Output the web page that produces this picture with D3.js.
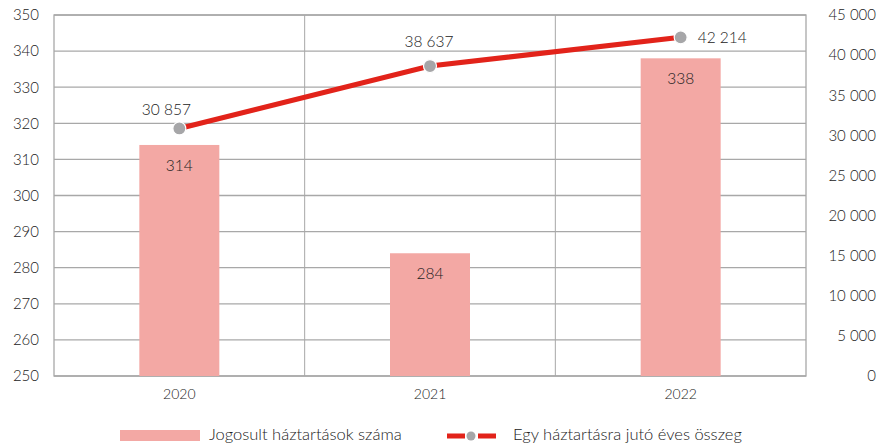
<!DOCTYPE html>
<html lang="hu">
<head>
<meta charset="UTF-8">
<title>Jogosult háztartások</title>
<script src="https://cdn.jsdelivr.net/npm/d3@7"></script>
<style>
  body { margin: 0; background: #fff; }
  svg { font-family: "Lato", "Open Sans", sans-serif; font-weight: 300; }
  .tick text { fill: #222; }
</style>
</head>
<body>
<svg id="chart" width="881" height="444"></svg>
<script>
// data
var years = ["2020", "2021", "2022"];
var households = [314, 284, 338];
var amountPerHousehold = [30857, 38637, 42214];
var leftTicks = [250, 260, 270, 280, 290, 300, 310, 320, 330, 340, 350];
var rightTicks = [0, 5000, 10000, 15000, 20000, 25000, 30000, 35000, 40000, 45000];
var legendNames = ["Jogosult háztartások száma", "Egy háztartásra jutó éves összeg"];

var svg = d3.select("#chart");
var plotL = 54, plotR = 806, plotT = 15, plotB = 376;
var grid = "#a8a8a8";
var textCol = "#222";

var x = d3.scaleBand().domain(years).range([plotL, plotR]).paddingInner(0).paddingOuter(0);
var yL = d3.scaleLinear().domain([250, 350]).range([plotB, plotT]);
var yR = d3.scaleLinear().domain([0, 45000]).range([plotB, plotT]);

var fmt = function (v) { return d3.format(",")(v).replace(/,/g, " "); };

// horizontal gridlines
svg.append("g").selectAll("line").data(leftTicks).enter().append("line")
  .attr("x1", plotL).attr("x2", plotR)
  .attr("y1", function (d) { return yL(d); }).attr("y2", function (d) { return yL(d); })
  .attr("stroke", grid).attr("stroke-width", 1.3);

// vertical separators + frame
svg.append("g").selectAll("line").data(years.slice(1)).enter().append("line")
  .attr("x1", function (d) { return x(d); }).attr("x2", function (d) { return x(d); })
  .attr("y1", plotT).attr("y2", plotB)
  .attr("stroke", grid).attr("stroke-width", 1);
svg.append("rect").attr("x", plotL).attr("y", plotT)
  .attr("width", plotR - plotL).attr("height", plotB - plotT)
  .attr("fill", "none").attr("stroke", grid).attr("stroke-width", 1.3);

// bars
var barW = 80;
svg.append("g").selectAll("rect").data(households).enter().append("rect")
  .attr("x", function (d, i) { return x(years[i]) + x.bandwidth() / 2 - barW / 2; })
  .attr("y", function (d) { return yL(d); })
  .attr("width", barW)
  .attr("height", function (d) { return plotB - yL(d); })
  .attr("fill", "#f3a8a4");

svg.append("g").selectAll("text").data(households).enter().append("text")
  .attr("x", function (d, i) { return x(years[i]) + x.bandwidth() / 2; })
  .attr("y", function (d) { return yL(d) + 26; })
  .attr("text-anchor", "middle")
  .attr("font-size", 15.5).attr("fill", textCol)
  .text(function (d) { return d; });

// axes
var axL = d3.axisLeft(yL).tickValues(leftTicks).tickSize(0).tickPadding(15);
svg.append("g").attr("transform", "translate(" + plotL + ",0)").call(axL)
  .call(function (g) { g.select(".domain").remove(); })
  .selectAll("text").attr("font-size", 15).attr("font-family", "Lato");

var axR = d3.axisRight(yR).tickValues(rightTicks).tickSize(0).tickPadding(0).tickFormat(fmt);
svg.append("g").attr("transform", "translate(876,0)").call(axR)
  .call(function (g) { g.select(".domain").remove(); })
  .selectAll("text").attr("text-anchor", "end").attr("font-size", 15).attr("font-family", "Lato");

var axB = d3.axisBottom(x).tickSize(0).tickPadding(13);
svg.append("g").attr("transform", "translate(0," + plotB + ")").call(axB)
  .call(function (g) { g.select(".domain").remove(); })
  .selectAll("text").attr("font-size", 14).attr("font-family", "Lato");

// line
var cx = function (i) { return x(years[i]) + x.bandwidth() / 2; };
var line = d3.line().x(function (d, i) { return cx(i); }).y(function (d) { return yR(d); });
svg.append("path").datum(amountPerHousehold)
  .attr("d", line).attr("fill", "none")
  .attr("stroke", "#e2231a").attr("stroke-width", 5);

svg.append("g").selectAll("circle").data(amountPerHousehold).enter().append("circle")
  .attr("cx", function (d, i) { return cx(i); })
  .attr("cy", function (d) { return yR(d); })
  .attr("r", 6.5).attr("fill", "#a6a6a8")
  .attr("stroke", "#fff").attr("stroke-width", 1.2);

// value labels: first two above the marker, last one to its right
var labelOffset = [[-13, -13], [-1, -19], [17, 6]];
svg.append("g").selectAll("text").data(amountPerHousehold).enter().append("text")
  .attr("x", function (d, i) { return cx(i) + labelOffset[i][0]; })
  .attr("y", function (d, i) { return yR(d) + labelOffset[i][1]; })
  .attr("text-anchor", function (d, i) { return i === 2 ? "start" : "middle"; })
  .attr("font-size", 15.5).attr("fill", textCol)
  .text(fmt);

// legend
var lg = svg.append("g");
lg.append("rect").attr("x", 120).attr("y", 430).attr("width", 80).attr("height", 11).attr("fill", "#f3a8a4");
lg.append("text").attr("x", 209).attr("y", 440).attr("font-size", 16.5).attr("fill", textCol).text(legendNames[0]);
lg.append("line").attr("x1", 447).attr("x2", 496).attr("y1", 436).attr("y2", 436)
  .attr("stroke", "#e2231a").attr("stroke-width", 5).attr("stroke-dasharray", "18 13");
lg.append("circle").attr("cx", 471).attr("cy", 436).attr("r", 4.5).attr("fill", "#a6a6a8");
lg.append("text").attr("x", 513).attr("y", 440).attr("font-size", 16.5).attr("fill", textCol).text(legendNames[1]);
</script>
</body>
</html>
